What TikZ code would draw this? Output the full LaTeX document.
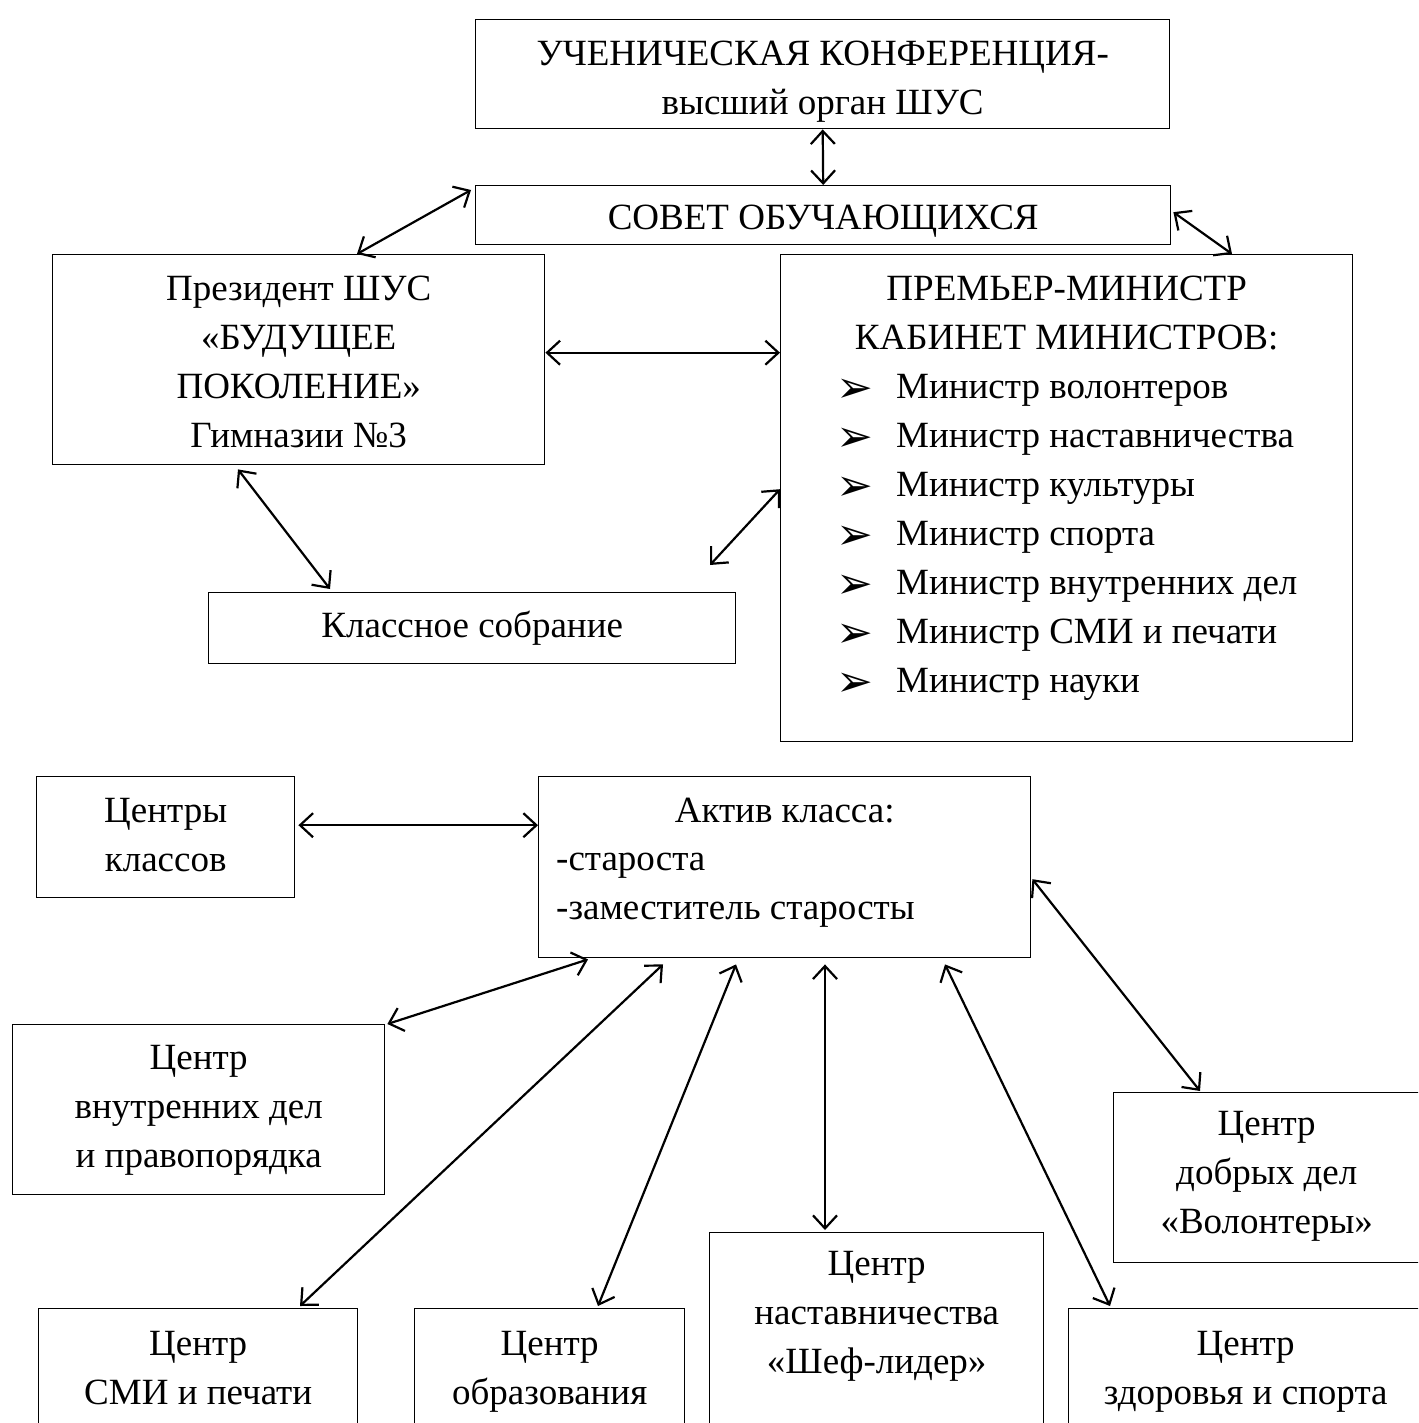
\documentclass[tikz,border=0pt]{standalone}
\usepackage{fontspec}
\setmainfont{Liberation Serif}
\newfontfamily\bulletfont{DejaVu Sans}
\usetikzlibrary{arrows.meta}
\usetikzlibrary{calc}

\newcommand{\mbullet}{\makebox[60pt][l]{\raisebox{-4pt}{\fontsize{44}{49}\bulletfont ➢}}}

\begin{document}
\begin{tikzpicture}[x=1pt, y=-1pt,
    frame/.style={draw, line width=1.4pt, anchor=north west, inner sep=0pt},
    txt/.style={anchor=north, inner sep=0pt, align=center, font=\fontsize{37}{49}\selectfont},
    lst/.style={anchor=north west, inner sep=0pt, align=left, font=\fontsize{37}{49}\selectfont},
    dbl/.style={{Straight Barb[length=13pt,width=24pt]}-{Straight Barb[length=13pt,width=24pt]}, line width=2.2pt}]

      \useasboundingbox (0,0) rectangle (1418,1423);
      \clip (0,0) rectangle (1418,1423);

      % upper part
      \node[frame, minimum width=694pt, minimum height=109pt] (conf) at (475,19) {};
      \node[frame, minimum width=695pt, minimum height=59pt] (sovet) at (475,185) {};
      \node[frame, minimum width=492pt, minimum height=210pt] (pres) at (52,254) {};
      \node[frame, minimum width=572pt, minimum height=487pt] (prem) at (780,254) {};
      \node[frame, minimum width=527pt, minimum height=71pt] (klass) at (208,592) {};

      \node[txt] (conftxt) at ([yshift=-12pt]conf.north) {\strut УЧЕНИЧЕСКАЯ КОНФЕРЕНЦИЯ-\\высший орган ШУС};
      \node[txt] (sovettxt) at ([yshift=-10pt]sovet.north) {\strut СОВЕТ ОБУЧАЮЩИХСЯ};
      \node[txt] (prestxt) at ([yshift=-12pt]pres.north) {\strut Президент ШУС\\«БУДУЩЕЕ\\ПОКОЛЕНИЕ»\\Гимназии №3};
      \node[txt] (premtxt) at ([yshift=-12pt]prem.north) {\strut ПРЕМЬЕР-МИНИСТР\\КАБИНЕТ МИНИСТРОВ:};
      \node[lst] (premlist) at ([xshift=56pt, yshift=-110pt]prem.north west) {%
        \strut\mbullet Министр волонтеров\\
        \mbullet Министр наставничества\\
        \mbullet Министр культуры\\
        \mbullet Министр спорта\\
        \mbullet Министр внутренних дел\\
        \mbullet Министр СМИ и печати\\
        \mbullet Министр науки};
      \node[txt] (klasstxt) at ([yshift=-11pt]klass.north) {\strut Классное собрание};

      \coordinate (free) at (710,565);

      \draw[dbl] (conf.south) -- (sovet.north);
      \draw[dbl] ([xshift=-4pt, yshift=-5pt]sovet.north west) -- ([xshift=305pt]pres.north west);
      \draw[dbl] ([xshift=2pt, yshift=3pt]sovet.east) -- ([xshift=452pt]prem.north west);
      \draw[dbl] ([yshift=7pt]pres.east) -- ([yshift=7pt]pres.east -| prem.west);
      \draw[dbl] ([xshift=186pt, yshift=-4pt]pres.south west) -- ([xshift=122pt, yshift=3pt]klass.north west);
      \draw[dbl] ([yshift=9pt]prem.west) -- (free);

      % lower part
      \node[frame, minimum width=258pt, minimum height=121pt] (centry) at (36,776) {};
      \node[frame, minimum width=492pt, minimum height=181pt] (aktiv) at (538,776) {};
      \node[frame, minimum width=372pt, minimum height=170pt] (vnutr) at (12,1024) {};
      \node[frame, minimum width=306pt, minimum height=170pt] (dobr) at (1113,1092) {};
      \node[frame, minimum width=319pt, minimum height=140pt] (smi) at (38,1308) {};
      \node[frame, minimum width=270pt, minimum height=140pt] (obraz) at (414,1308) {};
      \node[frame, minimum width=334pt, minimum height=220pt] (nast) at (709,1232) {};
      \node[frame, minimum width=354pt, minimum height=140pt] (zdor) at (1068,1308) {};

      \node[txt] (centrytxt) at ([yshift=-12pt]centry.north) {\strut Центры\\классов};
      \node[txt] (aktivtxt) at ([yshift=-12pt]aktiv.north) {\strut Актив класса:};
      \node[lst] (aktivlist) at ([xshift=18pt, yshift=-60pt]aktiv.north west) {\strut -староста\\-заместитель старосты};
      \node[txt] (vnutrtxt) at ([yshift=-11pt]vnutr.north) {\strut Центр\\внутренних дел\\ и правопорядка};
      \node[txt] (dobrtxt) at ([yshift=-9pt]dobr.north) {\strut Центр\\добрых дел\\«Волонтеры»};
      \node[txt] (smitxt) at ([yshift=-13pt]smi.north) {\strut Центр\\СМИ и печати};
      \node[txt] (obraztxt) at ([yshift=-13pt]obraz.north) {\strut Центр\\образования};
      \node[txt] (nasttxt) at ([yshift=-9pt]nast.north) {\strut Центр\\наставничества\\«Шеф-лидер»};
      \node[txt] (zdortxt) at ([yshift=-13pt]zdor.north) {\strut Центр\\здоровья и спорта};

      \draw[dbl] ([xshift=3pt, yshift=12pt]centry.east) -- ([yshift=12pt]centry.east -| aktiv.west);
      \draw[dbl] ([xshift=50pt, yshift=-1pt]aktiv.south west) -- ([xshift=2pt]vnutr.north east);
      \draw[dbl] ([xshift=125pt, yshift=-6pt]aktiv.south west) -- ([xshift=262pt, yshift=2pt]smi.north west);
      \draw[dbl] ([xshift=198pt, yshift=-6pt]aktiv.south west) -- ([xshift=184pt, yshift=2pt]obraz.north west);
      \draw[dbl] ([yshift=-6pt]aktiv.south -| nast.north west) ++(116,0) -- ([xshift=116pt, yshift=2pt]nast.north west);
      \draw[dbl] ([xshift=407pt, yshift=-6pt]aktiv.south west) -- ([xshift=42pt, yshift=2pt]zdor.north west);
      \draw[dbl] ([xshift=1pt, yshift=-12pt]aktiv.east) -- ([xshift=87pt, yshift=1pt]dobr.north west);
    \end{tikzpicture}
\end{document}
